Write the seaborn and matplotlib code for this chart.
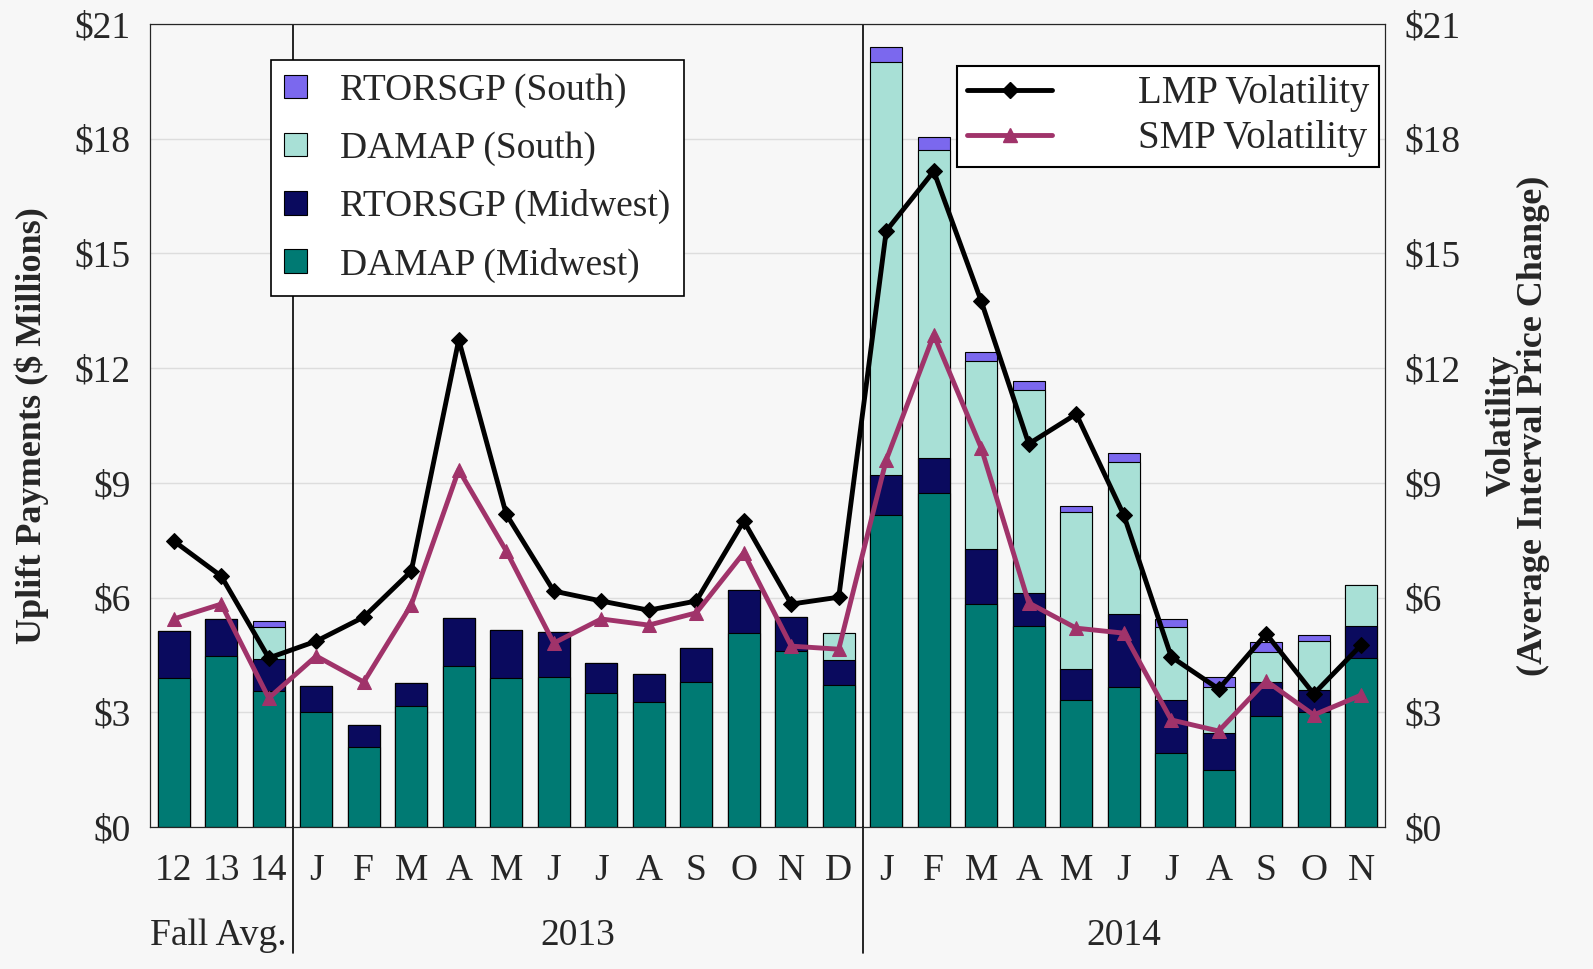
import numpy as np
import pandas as pd
import matplotlib.pyplot as plt
import seaborn as sbn
from matplotlib.patches import Patch
from matplotlib.lines import Line2D

months = ['12', '13', '14', 'J', 'F', 'M', 'A', 'M', 'J', 'J', 'A', 'S', 'O', 'N', 'D',
          'J', 'F', 'M', 'A', 'M', 'J', 'J', 'A', 'S', 'O', 'N']
# cumulative stack tops ($ millions)
damap_mw = [3.9, 4.47, 3.56, 3.0, 2.09, 3.16, 4.21, 3.9, 3.92, 3.5, 3.27, 3.79, 5.07, 4.6, 3.71,
            8.16, 8.73, 5.83, 5.26, 3.32, 3.66, 1.94, 1.49, 2.9, 3.0, 4.42]
rtor_mw = [5.13, 5.44, 4.39, 3.69, 2.67, 3.77, 5.47, 5.15, 5.1, 4.29, 4.0, 4.68, 6.2, 5.49, 4.37,
           9.2, 9.65, 7.27, 6.12, 4.13, 5.57, 3.32, 2.46, 3.79, 3.58, 5.26]
damap_s = [5.13, 5.44, 5.23, 3.69, 2.67, 3.77, 5.47, 5.15, 5.1, 4.29, 4.0, 4.68, 6.2, 5.49, 5.07,
           20.0, 17.7, 12.19, 11.43, 8.24, 9.55, 5.23, 3.66, 4.58, 4.86, 6.33]
rtor_s = [5.13, 5.44, 5.39, 3.69, 2.67, 3.77, 5.47, 5.15, 5.1, 4.29, 4.0, 4.68, 6.2, 5.49, 5.07,
          20.4, 18.04, 12.42, 11.66, 8.39, 9.78, 5.44, 3.92, 4.84, 5.02, 6.33]
lmp = [7.48, 6.56, 4.42, 4.86, 5.49, 6.69, 12.74, 8.18, 6.17, 5.91, 5.67, 5.91, 8.0, 5.83, 6.01,
       15.59, 17.15, 13.75, 10.02, 10.8, 8.16, 4.45, 3.61, 5.05, 3.48, 4.76]
smp = [5.44, 5.83, 3.37, 4.47, 3.79, 5.81, 9.34, 7.22, 4.81, 5.44, 5.28, 5.6, 7.17, 4.73, 4.65,
       9.6, 12.87, 9.91, 5.86, 5.2, 5.07, 2.8, 2.51, 3.82, 2.93, 3.45]

df = pd.DataFrame({'pos': np.arange(len(months)), 'dm': damap_mw, 'rm': rtor_mw,
                   'ds': damap_s, 'rs': rtor_s, 'lmp': lmp, 'smp': smp})

sbn.set_style('white')
plt.rcParams['font.family'] = ['Liberation Serif', 'DejaVu Serif']
bg = '#f7f7f7'
fs = 27
fig = plt.figure(figsize=(15.93, 9.69), dpi=100, facecolor=bg)
ax = fig.add_axes([150/1593, 1-827/969, 1235/1593, 803/969], facecolor=bg)

cols = {'rs': '#7b68ee', 'ds': '#a8e0d6', 'rm': '#0a0a5e', 'dm': '#007a73'}
for key in ['rs', 'ds', 'rm', 'dm']:
    sbn.barplot(data=df, x='pos', y=key, color=cols[key], width=0.68, saturation=1,
                edgecolor='black', linewidth=0.8, ax=ax, zorder=2)

ax.set_xlim(-0.5, 25.5)
ax.set_ylim(0, 21)
ax.set_yticks(range(0, 22, 3))
ax.set_yticklabels(['$%d' % v for v in range(0, 22, 3)], fontsize=fs)
ax.yaxis.grid(True, color='#dddddd', lw=1, zorder=0)
ax.set_axisbelow(True)
ax.set_xticks([])
ax.set_xlabel('')
ax.set_ylabel('Uplift Payments ($ Millions)', fontsize=26, fontweight='bold', labelpad=18)
for s in ax.spines.values():
    s.set_color('black')

ax2 = ax.twinx()
sbn.lineplot(data=df, x='pos', y='lmp', color='black', lw=3.5, marker='D', markersize=8,
             markeredgecolor='black', ax=ax2, zorder=4)
sbn.lineplot(data=df, x='pos', y='smp', color='#a0336a', lw=3.5, marker='^', markersize=10,
             markeredgecolor='#a0336a', ax=ax2, zorder=4)
ax2.set_ylim(0, 21)
ax2.set_yticks(range(0, 22, 3))
ax2.set_yticklabels(['$%d' % v for v in range(0, 22, 3)], fontsize=fs)
ax2.set_ylabel('Volatility\n(Average Interval Price Change)', fontsize=26, fontweight='bold',
               labelpad=18, linespacing=0.95)
ax2.set_xlabel('')
ax.tick_params(length=0, pad=14)
ax2.tick_params(length=0, pad=14)

for xs in [2.5, 14.5]:
    ax.plot([xs, xs], [0, 21], color='black', lw=1.2, zorder=5)
    ax.plot([xs, xs], [0, -3.3], color='black', lw=1.2, clip_on=False)
for i, m in enumerate(months):
    ax.text(i, -1.15, m, ha='center', va='center', fontsize=fs)
ax.text(-0.5, -2.85, 'Fall Avg.', ha='left', va='center', fontsize=fs)
ax.text(8.5, -2.85, '2013', ha='center', va='center', fontsize=fs)
ax.text(20, -2.85, '2014', ha='center', va='center', fontsize=fs)

h1 = [Patch(facecolor=cols[k], edgecolor='black', lw=0.8) for k in ['rs', 'ds', 'rm', 'dm']]
leg1 = ax2.legend(h1, ['RTORSGP (South)', 'DAMAP (South)', 'RTORSGP (Midwest)', 'DAMAP (Midwest)'],
                  loc='upper left', bbox_to_anchor=(0.098, 0.955), fontsize=27, fancybox=False,
                  edgecolor='black', framealpha=1, labelspacing=0.62, borderpad=0.35,
                  handlelength=0.6, handleheight=0.6, borderaxespad=0, handletextpad=0.9)
leg1.get_frame().set_linewidth(1.2)
ax2.add_artist(leg1)
h2 = [Line2D([], [], color='black', lw=3.5, marker='D', markersize=8),
      Line2D([], [], color='#a0336a', lw=3.5, marker='^', markersize=10)]
leg2 = ax2.legend(h2, ['LMP Volatility', 'SMP Volatility'], loc='upper right',
                  bbox_to_anchor=(0.995, 0.948), fontsize=28, fancybox=False, edgecolor='black',
                  framealpha=1, handlelength=2.2, handletextpad=2.2, borderaxespad=0,
                  labelspacing=0.2, borderpad=0.25)
leg2.get_frame().set_linewidth(1.5)

fig.savefig('out.png', dpi=100, facecolor=bg)
